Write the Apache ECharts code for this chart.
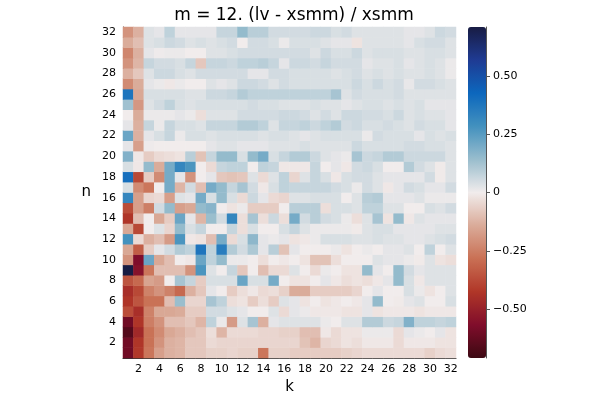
<!DOCTYPE html>
<html>
<head>
<meta charset="utf-8">
<title>m = 12. (lv - xsmm) / xsmm</title>
<script src="https://cdn.jsdelivr.net/npm/echarts@6.0.0/dist/echarts.min.js"></script>
<style>
  html, body { margin: 0; padding: 0; background: #fff; }
  #chart { width: 600px; height: 400px; }
</style>
</head>
<body>
<div id="chart"></div>
<script>
// k along x, n along y
const kCats = Array.from({ length: 32 }, (_, i) => String(i + 1))
const nCats = Array.from({ length: 32 }, (_, i) => String(i + 1))
// colorbar ticks
const cbTicks = [-0.5, -0.25, 0, 0.25, 0.5]
const vMin = -0.71
const vMax = 0.71

// relative difference, one row per n (row index = n - 1), columns k = 1..32
const vals = [
  /* n=1 */  [-0.6,-0.42,-0.27,-0.17,-0.13,-0.12,-0.08,-0.08,-0.06,-0.06,-0.05, -0.06,-0.06,-0.27,-0.06,-0.06,-0.07,-0.07,-0.07,-0.07,-0.07,-0.06, -0.05,-0.04,-0.04,-0.04,-0.04,-0.04,-0.04,-0.06,-0.04,-0.03],
  /* n=2 */  [-0.6,-0.43,-0.28,-0.2,-0.13,-0.12,-0.08,-0.08,-0.04,-0.05,-0.05, -0.05,-0.05,-0.05,-0.05,-0.05,-0.05,-0.09,-0.12,-0.05,-0.04,-0.02, -0.03,-0.01,-0.01,-0.01,-0.04,-0.01,-0.01,-0.01,-0.02,-0.02],
  /* n=3 */  [-0.66,-0.47,-0.28,-0.22,-0.15,-0.13,-0.1,-0.08,-0.03,-0.12,-0.04, -0.04,-0.04,-0.05,-0.05,-0.06,-0.06,-0.1,-0.1,-0.01,-0.04,-0.02, -0.02,0.01,0.01,0.01,-0.04,0.02,0.01,0.0,0.02,-0.02],
  /* n=4 */  [-0.6,-0.43,-0.25,-0.2,-0.1,-0.1,-0.08,-0.12,0.08,0.01,-0.18, 0.03,0.12,-0.13,0.02,0.03,0.03,0.03,0.03,0.01,0.0,0.03, 0.03,0.1,0.1,0.06,0.07,0.18,0.08,0.08,0.07,0.08],
  /* n=5 */  [-0.37,-0.45,-0.24,-0.15,-0.15,-0.14,-0.07,-0.07,0.05,0.05,0.03, 0.02,0.0,0.0,0.03,-0.04,0.02,0.01,-0.01,-0.01,-0.01,-0.02, -0.02,0.02,-0.02,-0.01,-0.01,-0.01,-0.02,-0.01,-0.01,-0.01],
  /* n=6 */  [-0.43,-0.35,-0.28,-0.28,-0.1,0.14,-0.05,-0.05,0.12,0.08,-0.03, -0.02,-0.07,-0.03,-0.07,0.03,0.02,-0.02,0.0,-0.02,-0.01,0.0, -0.01,0.02,0.15,0.0,-0.005,0.02,0.03,0.0,0.0,0.04],
  /* n=7 */  [-0.45,-0.38,-0.24,-0.2,-0.24,-0.3,-0.13,-0.08,0.02,0.0,-0.07, -0.03,-0.01,-0.04,-0.03,-0.06,-0.14,-0.14,-0.07,-0.07,-0.07,-0.07, -0.05,0.0,0.02,0.0,0.0,0.04,0.01,-0.02,0.0,0.03],
  /* n=8 */  [-0.35,-0.3,-0.16,-0.18,0.0,0.12,0.07,-0.07,0.04,0.04,0.04, 0.22,0.04,0.04,0.2,0.0,-0.02,-0.02,0.0,0.02,-0.01,-0.03, -0.02,-0.03,-0.01,0.02,0.15,0.04,-0.01,0.03,0.03,0.03],
  /* n=9 */  [0.71,-0.55,-0.27,-0.1,-0.1,-0.1,-0.2,0.27,0.03,0.0,0.07, -0.08,0.0,-0.1,-0.04,-0.04,0.03,0.0,-0.04,0.01,0.0,-0.02, -0.02,0.15,0.02,0.0,0.15,0.05,0.02,0.03,0.03,0.03],
  /* n=10 */ [-0.2,-0.57,0.22,-0.15,-0.1,0.0,-0.01,0.22,0.08,0.15,0.01, 0.01,0.0,-0.03,0.0,-0.01,0.0,-0.02,-0.09,-0.09,-0.03,0.0, 0.0,0.0,0.03,0.02,0.02,0.01,-0.005,0.03,-0.02,-0.03],
  /* n=11 */ [-0.15,-0.33,-0.07,0.02,0.05,0.1,0.08,0.38,0.08,0.35,0.1, 0.05,0.11,0.02,0.09,-0.09,0.02,0.0,0.0,0.0,0.01,-0.02, 0.0,0.01,0.0,0.02,0.02,0.03,0.0,0.08,0.0,0.03],
  /* n=12 */ [0.28,-0.04,-0.13,-0.1,-0.18,0.27,-0.01,-0.02,-0.1,0.2,-0.04, 0.04,0.16,0.02,0.01,0.02,-0.02,-0.01,0.01,0.04,0.04,0.04, 0.03,0.03,0.04,0.03,0.03,0.02,0.02,0.03,0.04,0.05],
  /* n=13 */ [-0.15,-0.38,0.0,0.03,-0.05,0.15,0.04,0.07,0.0,0.0,0.07, -0.03,0.04,0.0,0.0,0.04,0.07,0.03,0.01,0.01,0.01,0.01, -0.005,0.03,0.04,0.04,0.02,0.02,0.02,0.02,0.03,0.03],
  /* n=14 */ [-0.43,-0.1,0.0,-0.15,-0.07,0.22,0.02,-0.12,0.14,0.05,0.32, -0.03,0.12,-0.03,0.06,-0.03,0.2,0.05,0.09,0.05,0.04,0.01, -0.03,0.03,0.12,-0.02,0.15,-0.01,0.03,0.02,0.02,0.02],
  /* n=15 */ [-0.37,-0.17,-0.25,0.05,0.15,-0.17,-0.15,0.15,0.17,0.0,-0.02, 0.01,-0.07,-0.07,-0.07,0.0,0.09,0.09,0.09,-0.03,0.04,0.04, 0.03,0.08,0.08,0.03,0.03,0.0,0.0,0.04,0.03,0.05],
  /* n=16 */ [0.32,-0.17,-0.05,-0.04,-0.17,0.03,0.02,0.2,0.04,0.15,0.04, -0.04,0.06,0.02,-0.04,-0.05,0.03,0.03,0.04,0.04,0.04,0.0, 0.03,0.09,0.1,0.02,0.02,0.02,0.03,0.01,0.01,0.01],
  /* n=17 */ [0.04,-0.22,-0.27,0.0,0.2,-0.12,0.05,-0.1,0.2,0.15,0.07, 0.12,0.05,-0.01,0.04,0.08,0.07,0.07,0.07,0.07,0.05,0.04, 0.01,0.05,0.03,-0.01,0.02,0.05,0.04,0.02,0.02,0.05],
  /* n=18 */ [0.4,-0.38,-0.07,-0.22,0.2,0.02,-0.2,0.0,0.02,-0.08,-0.09, -0.08,0.03,-0.04,0.03,0.08,-0.05,0.03,0.07,0.04,-0.01,0.04, 0.05,0.05,0.03,0.02,0.02,0.02,0.02,0.05,-0.005,0.03],
  /* n=19 */ [0.04,-0.01,0.15,-0.14,0.2,0.32,0.27,0.0,-0.04,0.07,0.08, 0.08,0.0,0.08,0.07,-0.01,-0.01,-0.01,0.07,0.0,0.02,-0.01, 0.05,0.06,0.04,0.0,0.0,0.1,0.05,0.03,-0.005,0.03],
  /* n=20 */ [0.18,-0.01,-0.07,-0.04,-0.03,-0.02,0.09,-0.09,0.07,0.15,0.15, 0.04,0.15,0.2,0.04,0.07,0.1,0.1,0.06,0.03,0.02,0.01, 0.12,0.06,0.07,0.1,0.1,0.06,0.06,0.06,0.06,0.03],
  /* n=21 */ [0.02,-0.17,0.005,0.0,0.0,0.0,0.0,0.0,0.02,0.03,0.03, 0.02,0.02,0.02,0.03,0.03,0.03,0.04,0.03,0.03,0.03,0.03, 0.06,0.04,0.04,0.04,0.04,0.05,0.05,0.04,0.04,0.03],
  /* n=22 */ [0.22,-0.13,0.02,0.04,0.07,0.01,0.04,0.04,0.03,0.04,0.04, 0.04,0.04,0.03,0.04,0.04,0.03,0.02,0.03,0.04,0.04,0.04, 0.04,0.01,0.05,0.04,0.04,0.04,0.02,0.04,0.03,0.04],
  /* n=23 */ [0.02,-0.13,0.07,0.01,0.07,0.04,0.04,0.03,0.07,0.07,0.07, 0.1,0.1,0.08,0.03,0.07,0.07,0.08,0.06,0.08,0.1,0.05, 0.06,0.04,0.04,0.05,0.04,0.03,0.05,0.04,0.04,0.02],
  /* n=24 */ [0.0,-0.14,0.01,0.01,0.01,0.02,0.01,-0.03,0.03,0.03,0.03, 0.05,0.05,0.05,0.05,0.06,0.06,0.05,0.03,0.05,0.03,0.06, 0.06,0.05,0.05,0.04,0.06,0.03,0.04,0.03,0.03,0.02],
  /* n=25 */ [0.13,-0.19,0.03,0.05,0.08,0.04,0.03,0.04,0.04,0.04,0.04, 0.04,0.05,0.04,0.04,0.03,0.03,0.03,0.04,0.03,0.03,0.02, 0.03,0.04,0.04,0.03,0.04,0.03,0.04,0.02,0.02,0.02],
  /* n=26 */ [0.38,-0.15,0.04,0.04,0.04,0.04,0.03,0.03,0.06,0.06,0.07, 0.1,0.08,0.08,0.08,0.08,0.08,0.08,0.08,0.08,0.12,0.03, 0.05,0.04,0.04,0.04,0.05,0.03,0.03,0.03,0.03,0.03],
  /* n=27 */ [-0.22,-0.14,0.02,0.01,-0.01,0.01,0.0,0.0,0.03,0.02,0.03, 0.06,0.06,0.05,0.03,0.05,0.04,0.04,0.04,0.04,0.04,0.04, 0.06,0.04,0.06,0.04,0.05,0.015,0.05,0.05,0.04,0.03],
  /* n=28 */ [-0.13,-0.08,0.03,0.06,0.06,0.04,0.03,0.05,0.05,0.05,0.05, 0.05,0.02,0.02,0.05,0.05,0.04,0.04,0.04,0.04,0.03,0.04, 0.05,0.03,0.04,0.03,0.04,0.03,0.03,0.04,0.03,0.01],
  /* n=29 */ [-0.2,-0.12,0.07,0.05,0.05,0.04,0.07,-0.08,0.07,0.07,0.06, 0.08,0.08,0.09,0.07,0.02,0.06,0.06,0.05,0.07,0.05,0.05, 0.05,0.02,0.03,0.03,0.04,0.02,0.03,0.04,0.03,0.01],
  /* n=30 */ [-0.23,-0.13,0.02,0.005,0.01,0.01,0.0,0.0,0.03,0.03,0.04, 0.05,0.05,0.05,0.05,0.05,0.05,0.05,0.03,0.06,0.04,0.04, 0.06,0.03,0.04,0.04,0.04,0.03,0.03,0.04,0.04,0.03],
  /* n=31 */ [-0.14,-0.1,0.03,0.04,0.06,0.05,0.03,0.04,0.03,0.04,0.05, 0.0,0.05,0.05,0.04,0.01,0.04,0.04,0.04,0.03,0.02,0.02, -0.02,0.03,0.03,0.03,0.03,0.02,0.04,0.05,0.05,0.03],
  /* n=32 */ [-0.2,-0.13,0.03,0.02,0.08,0.02,0.02,0.02,0.02,0.07,0.07, 0.15,0.09,0.09,0.05,0.05,0.05,0.05,0.06,0.06,0.04,0.05, 0.03,0.03,0.03,0.03,0.03,0.02,0.02,0.03,0.06,0.05]
]

// reversed "balance" colormap, low -> high
const balanceR = ['#3c0912', '#800d2b', '#b03628', '#c97054', '#daab99', '#f1ecec',
  '#99bdcd', '#4391be', '#0c67bd', '#1f3b93', '#181c43']

const heatData = []
for (let n = 0; n < vals.length; n++) {
  for (let k = 0; k < vals[n].length; k++) {
    heatData.push([k, n, vals[n][k]])
  }
}

const font = 'DejaVu Sans'
const evenOnly = (idx) => (idx + 1) % 2 === 0

const chart = echarts.init(document.getElementById('chart'), null, { renderer: 'canvas' })
chart.setOption({
  animation: false,
  backgroundColor: '#fff',
  textStyle: { fontFamily: font },
  title: {
    text: 'm = 12. (lv - xsmm) / xsmm',
    left: 289,
    top: 2,
    textAlign: 'center',
    textStyle: { fontFamily: font, fontSize: 17, fontWeight: 'normal', color: '#000' }
  },
  grid: [
    { left: 123, top: 27, width: 333, height: 331 },
    // colorbar axis
    { left: 468, top: 27, width: 18, height: 331 }
  ],
  xAxis: [
    {
      gridIndex: 0,
      type: 'category',
      data: kCats,
      name: 'k',
      nameLocation: 'middle',
      nameGap: 22,
      nameTextStyle: { fontFamily: font, fontSize: 15, color: '#000' },
      axisLine: { lineStyle: { color: '#333', width: 1 } },
      axisTick: { alignWithLabel: true, interval: evenOnly, inside: true, length: 4, lineStyle: { color: '#333' } },
      axisLabel: { interval: evenOnly, margin: 6, fontSize: 11, color: '#000', fontFamily: font },
      splitLine: { show: false }
    },
    {
      gridIndex: 1,
      type: 'category',
      data: [''],
      show: false
    }
  ],
  yAxis: [
    {
      gridIndex: 0,
      type: 'category',
      data: nCats,
      name: 'n',
      nameLocation: 'middle',
      nameRotate: 0,
      nameGap: 32,
      nameTextStyle: { fontFamily: font, fontSize: 15, color: '#000' },
      axisLine: { lineStyle: { color: '#333', width: 1 } },
      axisTick: { alignWithLabel: true, interval: evenOnly, inside: true, length: 4, lineStyle: { color: '#333' } },
      axisLabel: { interval: evenOnly, margin: 7, fontSize: 11, color: '#000', fontFamily: font },
      splitLine: { show: false }
    },
    {
      gridIndex: 1,
      type: 'value',
      position: 'right',
      min: vMin,
      max: vMax,
      axisLine: { show: true, lineStyle: { color: '#555', width: 1 } },
      axisTick: { show: true, length: 4, customValues: cbTicks, lineStyle: { color: '#555' } },
      axisLabel: {
        customValues: cbTicks,
        margin: 7,
        fontSize: 11,
        color: '#000',
        fontFamily: font,
        formatter: (v) => v === 0 ? '0' : (v < 0 ? '\u2212' : '') + Math.abs(v).toFixed(2)
      },
      splitLine: { show: false }
    }
  ],
  visualMap: {
    type: 'continuous',
    seriesIndex: 0,
    min: vMin,
    max: vMax,
    calculable: false,
    hoverLink: false,
    left: 468,
    top: 27,
    padding: 0,
    itemWidth: 18,
    itemHeight: 331,
    inRange: { color: balanceR }
  },
  series: [
    {
      type: 'heatmap',
      xAxisIndex: 0,
      yAxisIndex: 0,
      data: heatData,
      itemStyle: { borderWidth: 0 },
      emphasis: { disabled: true }
    },
    {
      type: 'line',
      xAxisIndex: 1,
      yAxisIndex: 1,
      data: [],
      silent: true
    }
  ]
})
</script>
</body>
</html>
